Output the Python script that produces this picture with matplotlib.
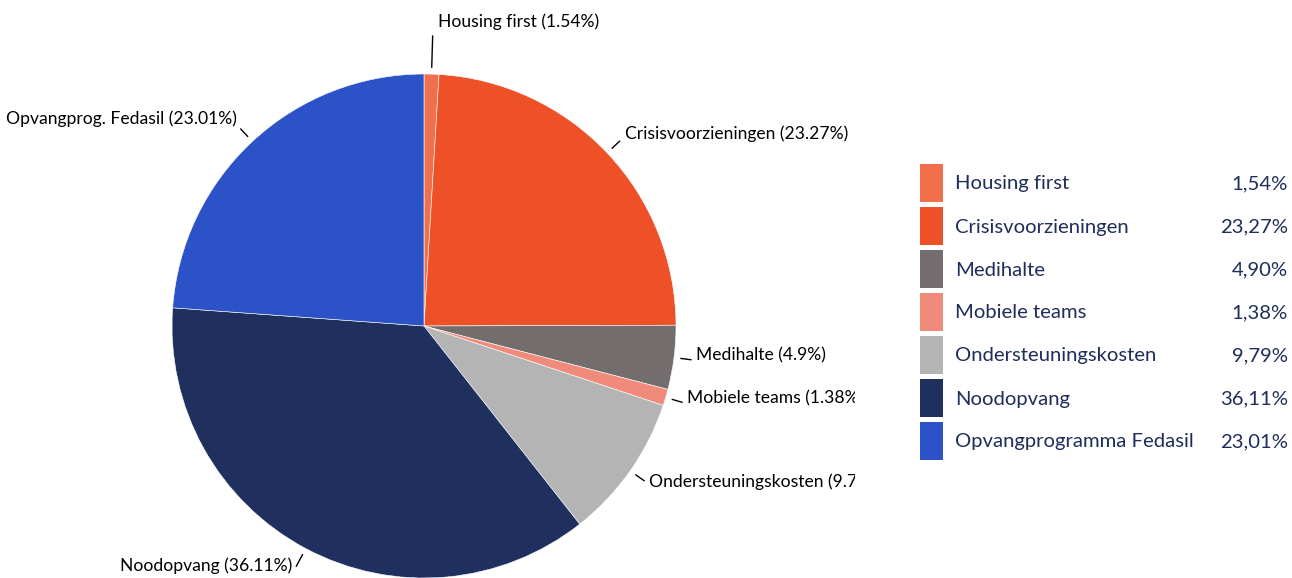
import numpy as np
import matplotlib
matplotlib.use("Agg")
import matplotlib.pyplot as plt
from matplotlib.patches import Rectangle


# legend names, pie label names and the printed percentages
names = ["Housing first", "Crisisvoorzieningen", "Medihalte", "Mobiele teams",
         "Ondersteuningskosten", "Noodopvang", "Opvangprogramma Fedasil"]
short_names = ["Housing first", "Crisisvoorzieningen", "Medihalte", "Mobiele teams",
               "Ondersteuningskosten", "Noodopvang", "Opvangprog. Fedasil"]
percent = [1.54, 23.27, 4.90, 1.38, 9.79, 36.11, 23.01]

# slice sizes as drawn in the picture (they differ a bit from the printed %)
slice_share = [0.95, 24.0, 4.1, 1.05, 9.3, 36.75, 23.85]

colors = ["#f0704c", "#ee5128", "#736d6e", "#f08a7b", "#b4b4b4", "#1f305e", "#2b52c6"]

W, H = 1292, 578
CX, CY, R = 424, 326, 252
PIE_CLIP_X = 855

LABEL_FONT = ["Lato", "DejaVu Sans"]
LEGEND_FONT = ["Lato", "DejaVu Sans"]
LEGEND_TEXT = "#1f2d5a"

# connector end distance beyond radius, and vertical nudge of label text (px)
conn_out = [38, 17, 17, 17, 17, 20, 17]
label_dy = [-14, -8, -4, -4, 1, 0, -10]


fig = plt.figure(figsize=(W / 100, H / 100), dpi=100)

ax = fig.add_axes([0, 0, PIE_CLIP_X / W, 1])
wedges, _ = ax.pie(slice_share, colors=colors, startangle=90, counterclock=False,
                   center=(CX, H - CY), radius=R,
                   wedgeprops=dict(edgecolor="white", linewidth=0.4))
ax.set_xlim(0, PIE_CLIP_X)
ax.set_ylim(0, H)
ax.set_aspect("auto")
ax.axis("off")

cum = np.cumsum([0] + slice_share)
for i, name in enumerate(short_names):
    mid = 90 - 360 * (cum[i] + cum[i + 1]) / 200.0
    a = np.deg2rad(mid)
    x0, y0 = CX + (R + 7) * np.cos(a), (H - CY) + (R + 7) * np.sin(a)
    x1, y1 = CX + (R + conn_out[i]) * np.cos(a), (H - CY) + (R + conn_out[i]) * np.sin(a)
    ax.plot([x0, x1], [y0, y1], color="black", linewidth=1.0, clip_on=True)
    right = np.cos(a) >= 0
    tx = x1 + 5 if right else x1 - 4
    ax.text(tx, y1 - label_dy[i], f"{name} ({percent[i]:g}%)",
            ha="left" if right else "right", va="center",
            fontsize=12.6, family=LABEL_FONT, color="black", clip_on=True)

# legend
lg = fig.add_axes([0, 0, 1, 1])
lg.set_xlim(0, W)
lg.set_ylim(H, 0)
lg.axis("off")
for i, name in enumerate(names):
    top = 164 + i * 43
    lg.add_patch(Rectangle((920, top), 23, 38, facecolor=colors[i], edgecolor="none"))
    yc = top + 20
    lg.text(955, yc, name, ha="left", va="center", fontsize=14.6,
            family=LEGEND_FONT, color=LEGEND_TEXT)
    lg.text(1288, yc, f"{percent[i]:.2f}".replace(".", ",") + "%", ha="right",
            va="center", fontsize=14.6, family=LEGEND_FONT, color=LEGEND_TEXT)

fig.savefig("out.png", dpi=100)
